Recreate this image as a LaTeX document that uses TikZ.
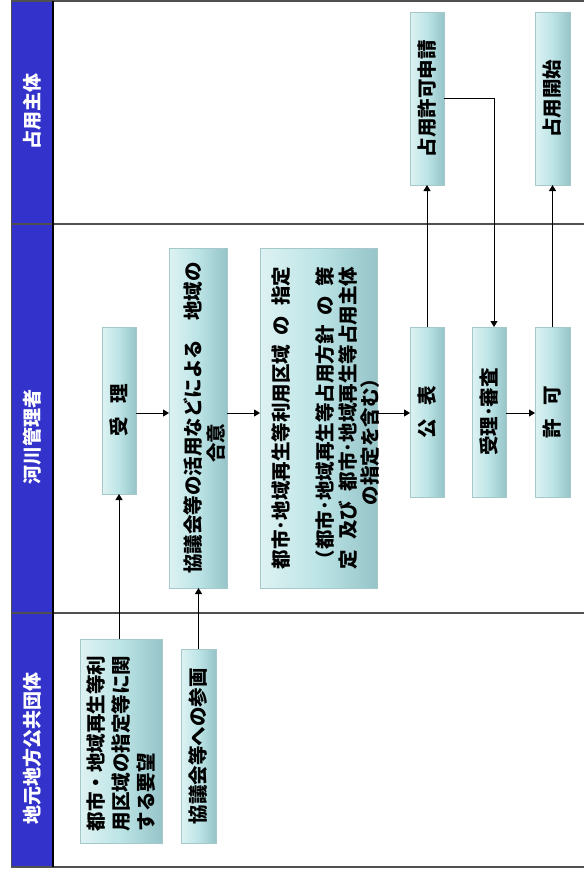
\documentclass[tikz,border=0pt]{standalone}
\usepackage{fontspec}
\setmainfont{Noto Sans CJK JP}
\usepackage{graphicx}
\usetikzlibrary{arrows.meta}
\definecolor{laneblue}{RGB}{51,50,202}
\definecolor{sepgray}{RGB}{80,80,80}
\definecolor{boxL}{RGB}{222,242,242}
\definecolor{boxM}{RGB}{188,228,230}
\definecolor{boxR}{RGB}{150,196,200}
\definecolor{boxedge}{RGB}{165,200,202}
\newcommand\vt[4]{\rotatebox{90}{\raisebox{#4}[\height][\depth]{\begin{minipage}{#1}\fontsize{19.5pt}{#2}\selectfont\bfseries\centering #3\end{minipage}}}}
\newcommand\gp{\hspace{0.5em}}
\begin{document}
\begin{tikzpicture}[x=1pt,y=-1pt,
  box/.style={draw=boxedge, line width=0.6pt, left color=boxL, right color=boxR, middle color=boxM, inner sep=0pt, outer sep=0pt},
  arr/.style={line width=1pt, -{Triangle[length=6pt,width=7pt]}},
  hdr/.style={rotate=90, text=white, font=\bfseries\fontsize{19pt}{22pt}\selectfont, inner sep=0pt},
  sep/.style={draw=sepgray, line width=1.4pt}]
\useasboundingbox (0,0) rectangle (584,870);
\fill[white] (0,0) rectangle (584,870);
% lane header column
\fill[laneblue] (11,1) rectangle (53,867);
\draw[sep] (11,1) -- (584,1);
\draw[sep] (11,224) -- (584,224);
\draw[sep] (11,613) -- (584,613);
\draw[sep, line width=2pt] (11,867) -- (584,867);
\draw[sepgray, line width=1pt] (11.5,1) -- (11.5,867);
\draw[black, line width=2pt] (53,1) -- (53,867);
% lane labels
\node[hdr] (lane1) at (32,111) {占用主体};
\node[hdr] (lane2) at (32,437) {河川管理者};
\node[hdr] (lane3) at (32,748) {地元地方公共団体};
% boxes
\node[box, minimum width=82pt, minimum height=204pt] (yobo) at (121,741)
  {\vt{180pt}{25pt}{\raggedright 都市・地域再生等利\\用区域の指定等に関\\する要望}{0pt}};
\node[box, minimum width=35pt, minimum height=194pt] (sankaku) at (198.5,746)
  {\vt{190pt}{22pt}{協議会等への参画}{0pt}};
\node[box, minimum width=34pt, minimum height=167pt] (juri) at (119,410.5)
  {\vt{160pt}{22pt}{受\hspace{0.7em}理}{0pt}};
\node[box, minimum width=58pt, minimum height=340pt] (goi) at (198,418)
  {\vt{336pt}{23pt}{協議会等の活用などによる　地域の\\\makebox[89pt][l]{合意}}{-6.5pt}};
\node[box, minimum width=117pt, minimum height=340pt] (shitei) at (318.5,418)
  {\vt{336pt}{22.3pt}{都市･地域再生等利用区域\gp の\gp 指定\\[22.3pt]（都市･地域再生等占用方針\gp の\gp 策\\定\gp 及び\gp 都市･地域再生等占用主体\\\makebox[174pt][l]{の指定を含む）}}{-7pt}};
\node[box, minimum width=34pt, minimum height=170pt] (kohyo) at (427,412)
  {\vt{160pt}{22pt}{公\hspace{0.7em}表}{0pt}};
\node[box, minimum width=34pt, minimum height=170pt] (shinsa) at (489,412)
  {\vt{160pt}{22pt}{受理･審査}{0pt}};
\node[box, minimum width=35pt, minimum height=170pt] (kyoka) at (552.5,412)
  {\vt{160pt}{22pt}{許\hspace{0.7em}可}{0pt}};
\node[box, minimum width=34pt, minimum height=173pt] (shinsei) at (427,98.5)
  {\vt{165pt}{22pt}{占用許可申請}{0pt}};
\node[box, minimum width=35pt, minimum height=173pt] (kaishi) at (552.5,98.5)
  {\vt{165pt}{22pt}{占用開始}{0pt}};
% connectors
\coordinate (flow) at (0,413);
\draw[arr] (yobo.north -| juri) -- (juri.south);
\draw[arr] (sankaku.north) -- (sankaku.north |- goi.south);
\draw[arr] (juri.east |- flow) -- (goi.west |- flow);
\draw[arr] (goi.east |- flow) -- (shitei.west |- flow);
\draw[arr] (shitei.east |- flow) -- (kohyo.west |- flow);
\draw[arr] (kohyo.north) -- (shinsei.south);
\draw[arr] (shinsei.east) -| ([xshift=5pt]shinsa.north);
\draw[arr] (shinsa.east |- flow) -- (kyoka.west |- flow);
\draw[arr] (kyoka.north) -- (kaishi.south);
\end{tikzpicture}
\end{document}
